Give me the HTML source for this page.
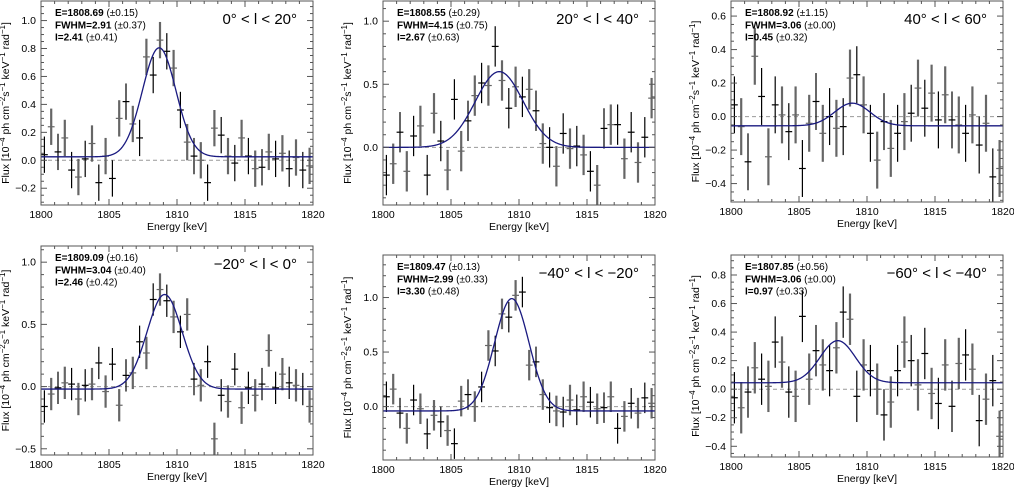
<!DOCTYPE html>
<html><head><meta charset="utf-8"><style>
html,body{margin:0;padding:0;background:#fff;}
svg{display:block;font-family:"Liberation Sans","DejaVu Sans",sans-serif;}
</style></head><body>
<svg id="chart" width="1014" height="487" viewBox="0 0 1014 487"></svg>
<script>
const energies = Array.from({length:40},(_, i)=>1800.25+0.5*i);
const fluxP1 = [0.04,0.24,0.06,0.16,-0.07,-0.12,0.01,0.12,-0.16,0.03,-0.13,0.30,0.42,0.26,0.16,0.74,0.61,0.86,0.78,0.66,0.36,0.13,0.03,0.00,-0.16,0.23,0.18,0.03,-0.02,0.16,0.03,-0.06,-0.05,0.06,0.01,0.05,-0.06,0.02,-0.07,-0.04];
const fluxP2 = [-0.22,-0.13,0.12,-0.19,0.09,0.17,-0.22,0.27,0.05,-0.18,0.38,-0.03,0.21,0.41,0.51,0.49,0.80,0.53,0.31,0.48,0.40,0.46,0.29,0.03,0.00,-0.15,0.11,-0.01,0.01,-0.06,-0.19,-0.30,0.15,0.18,0.18,-0.09,0.12,-0.12,0.08,0.39];
const fluxP3 = [0.07,-0.06,-0.27,0.36,0.12,-0.24,0.07,0.01,-0.09,0.01,-0.31,-0.04,0.09,-0.10,0.00,-0.07,-0.06,0.23,0.25,0.07,-0.10,-0.26,-0.03,-0.19,-0.10,-0.03,0.02,0.17,0.05,0.14,-0.02,0.13,-0.02,-0.05,-0.10,0.01,-0.17,-0.04,-0.36,-0.31];
const fluxP4 = [-0.16,-0.06,-0.01,0.03,0.02,-0.10,0.01,0.02,0.19,-0.04,0.18,-0.15,0.09,0.11,0.36,0.27,0.70,0.78,0.69,0.56,0.44,0.58,0.06,0.01,0.20,-0.42,-0.07,-0.12,0.14,-0.17,-0.01,-0.07,0.02,0.29,-0.01,0.10,0.03,0.01,-0.02,-0.16];
const fluxP5 = [0.09,0.16,-0.06,-0.20,0.06,-0.02,-0.25,-0.08,-0.14,-0.22,-0.34,0.05,0.11,0.00,0.18,0.56,0.51,0.85,0.82,1.02,1.05,0.38,0.41,0.11,-0.01,-0.04,-0.05,0.06,-0.03,0.09,0.04,-0.02,-0.01,0.09,-0.20,-0.09,0.03,-0.06,0.08,0.03];
const fluxP6 = [-0.06,-0.13,-0.02,0.15,0.07,0.02,0.33,0.19,-0.02,-0.05,0.51,0.07,0.27,0.17,0.13,0.29,0.54,0.49,-0.05,0.17,0.13,0.00,-0.18,-0.09,0.13,0.33,0.20,0.03,0.25,-0.03,-0.10,0.17,-0.12,0.18,0.24,0.14,-0.22,-0.07,0.06,-0.33];
const errors = [0.13,0.16,0.17,0.13,0.14,0.18];
const fitCenter = [1808.69,1808.55,1808.92,1809.09,1809.47,1807.85];
const fitFwhm = [2.91,4.15,3.06,3.04,2.99,3.06];
const fitAmp = [0.78,0.60,0.135,0.76,1.03,0.295];
const fitBase = [0.025,0.0,-0.055,-0.02,-0.04,0.045];
const titles = ["0°<l<20°","20°<l<40°","40°<l<60°","\u221220°<l<0°","\u221240°<l<\u221220°","\u221260°<l<\u221240°"];
const infoE = ["E=1808.69 (±0.15)","E=1808.55 (±0.29)","E=1808.92 (±1.15)","E=1809.09 (±0.16)","E=1809.47 (±0.13)","E=1807.85 (±0.56)"];
const infoW = ["FWHM=2.91 (±0.37)","FWHM=4.15 (±0.75)","FWHM=3.06 (±0.00)","FWHM=3.04 (±0.40)","FWHM=2.99 (±0.33)","FWHM=3.06 (±0.00)"];
const infoI = ["I=2.41 (±0.41)","I=2.67 (±0.63)","I=0.45 (±0.32)","I=2.46 (±0.42)","I=3.30 (±0.48)","I=0.97 (±0.33)"];
const yTicksMajor = [[-0.2,0,0.2,0.4,0.6,0.8,1.0],[0,0.5,1.0],[-0.4,-0.2,0,0.2,0.4,0.6],[-0.5,0,0.5,1.0],[0,0.5,1.0],[-0.4,-0.2,0,0.2,0.4,0.6,0.8]];
const yMinorStep = [0.05,0.1,0.05,0.1,0.1,0.05];
const yRange = [[-0.32,1.14],[-0.457,1.16],[-0.51,0.69],[-0.55,1.13],[-0.49,1.39],[-0.475,0.94]];
const xTicks = [1800,1805,1810,1815,1820];
const allFlux = [fluxP1,fluxP2,fluxP3,fluxP4,fluxP5,fluxP6];
// layout (pixel boxes) - not data
const boxes = [[41,313,1,205],[383,655,1,205],[731,1003,1,202],[41,313,246,455],[383,655,255,460],[731,1003,255,457]];

const NS="http://www.w3.org/2000/svg";
const svg=document.getElementById('chart');
function mk(tag,attrs,parent){const e=document.createElementNS(NS,tag);for(const k in attrs)e.setAttribute(k,attrs[k]);(parent||svg).appendChild(e);return e;}
function fmt(v){if(Math.abs(v)<1e-9)return "0.0";const s=v.toFixed(1);return v<0?"\u2212"+s.slice(1):s;}

for(let p=0;p<6;p++){
  const [x0,x1,y0,y1]=boxes[p];const [ymin,ymax]=yRange[p];
  const X=e=>x0+(e-1800)/20*(x1-x0);
  const Y=v=>y1-(v-ymin)/(ymax-ymin)*(y1-y0);
  const g=mk('g',{});
  
  
  const clipId='clip'+p;
  const cp=mk('clipPath',{id:clipId},g);mk('rect',{x:x0,y:y0,width:x1-x0,height:y1-y0},cp);
  const z=mk('line',{x1:x0,x2:x1,y1:Y(0),y2:Y(0),stroke:'#999','stroke-width':1,'stroke-dasharray':'4,3'},g);
  
  
  const pts=mk('g',{'clip-path':'url(#'+clipId+')'},g);
  
  
  const fl=allFlux[p],er=errors[p];
  for(let i=0;i<energies.length;i++){
    const gray=(i%2===1);
    const col=gray?'#666':'#000',w=gray?2.2:1.2;
    const cx=X(energies[i]);
    const a=mk('line',{x1:cx,x2:cx,y1:Y(fl[i]+er),y2:Y(fl[i]-er),stroke:col,'stroke-width':w},pts);
    
    
    const b=mk('line',{x1:X(energies[i]-0.25),x2:X(energies[i]+0.25),y1:Y(fl[i]),y2:Y(fl[i]),stroke:col,'stroke-width':1.2},pts);
    
    
  }
  const sig=fitFwhm[p]/2.3548;let d='';
  for(let k=0;k<=400;k++){const e=1800+20*k/400;const v=fitBase[p]+fitAmp[p]*Math.exp(-0.5*Math.pow((e-fitCenter[p])/sig,2));d+=(k?'L':'M')+X(e).toFixed(2)+','+Y(v).toFixed(2);}
  const fc=mk('path',{d:d,fill:'none',stroke:'#1a1a80','stroke-width':1.3,'clip-path':'url(#'+clipId+')'},g);
  
  
  const bx=mk('rect',{x:x0,y:y0,width:x1-x0,height:y1-y0,fill:'none',stroke:'#555','stroke-width':1},g);
  
  
  for(let e=1800;e<=1820;e++){const L=(e%5===0)?6:3;const tx=X(e);
    mk('line',{x1:tx,x2:tx,y1:y1,y2:y1-L,stroke:'#555'},g);mk('line',{x1:tx,x2:tx,y1:y0,y2:y0+L,stroke:'#555'},g);}
  xTicks.forEach(e=>{const t=mk('text',{x:X(e),y:y1+13,'font-size':10.5,'text-anchor':'middle',fill:'#000'},g);t.textContent=e;
    
    });
  const st=yMinorStep[p];
  for(let v=Math.ceil(ymin/st)*st;v<=ymax+1e-9;v+=st){const isM=yTicksMajor[p].some(m=>Math.abs(m-v)<1e-6);const L=isM?6:3;const ty=Y(v);
    mk('line',{x1:x0,x2:x0+L,y1:ty,y2:ty,stroke:'#555'},g);mk('line',{x1:x1,x2:x1-L,y1:ty,y2:ty,stroke:'#555'},g);}
  yTicksMajor[p].forEach(v=>{const t=mk('text',{x:x0-5,y:Y(v)+3.5,'font-size':10.5,'text-anchor':'end',fill:'#000'},g);t.textContent=fmt(v);
    
    });
  const xt=mk('text',{x:(x0+x1)/2,y:y1+25,'font-size':10.5,'text-anchor':'middle',fill:'#000'},g);xt.textContent='Energy [keV]';
  
  
  const yc=(y0+y1)/2,yx=x0-32;
  const yt=mk('text',{x:yx,y:yc,'font-size':10.5,'text-anchor':'middle',fill:'#000',transform:'rotate(-90 '+yx+' '+yc+')'},g);
  yt.innerHTML='Flux [10<tspan dy="-4" font-size="8">\u22124</tspan><tspan dy="4"> ph cm</tspan><tspan dy="-4" font-size="8">\u22122</tspan><tspan dy="4">s</tspan><tspan dy="-4" font-size="8">\u22121</tspan><tspan dy="4"> keV</tspan><tspan dy="-4" font-size="8">\u22121</tspan><tspan dy="4"> rad</tspan><tspan dy="-4" font-size="8">\u22121</tspan><tspan dy="4">]</tspan>';
  
  
  [infoE[p],infoW[p],infoI[p]].forEach((s,j)=>{const t=mk('text',{x:x0+14,y:y0+15+j*12.3,'font-size':10,fill:'#000'},g);
    const k=s.indexOf(' ');t.innerHTML='<tspan font-weight="bold">'+s.slice(0,k)+'</tspan>'+s.slice(k);
    
    });
  const tt=mk('text',{x:x1-16,y:y0+23,'font-size':15,'text-anchor':'end',fill:'#000','word-spacing':'0'},g);
  tt.textContent=titles[p].replace(/</g,' < ').replace(/\s+/g,' ');
  
  
}
</script>
</body></html>
